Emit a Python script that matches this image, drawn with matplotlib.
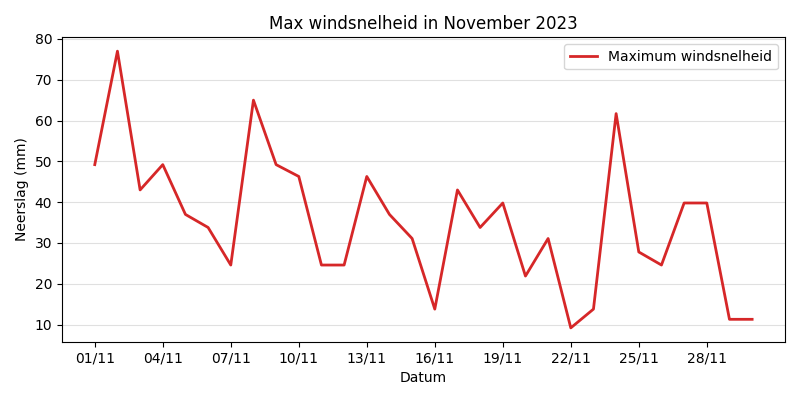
import matplotlib
matplotlib.use("Agg")
import matplotlib.pyplot as plt
import matplotlib.dates as mdates
import pandas as pd

dates = pd.date_range("2023-11-01", "2023-11-30", freq="D")
max_wind = [49.2, 77.0, 43.0, 49.2, 37.0, 33.8, 24.6, 65.0, 49.2, 46.3,
            24.6, 24.6, 46.3, 37.0, 31.1, 13.8, 43.0, 33.8, 39.8, 21.9,
            31.1, 9.2, 13.8, 61.7, 27.8, 24.6, 39.8, 39.8, 11.3, 11.3]

fig, ax = plt.subplots(figsize=(8, 4), dpi=100)
ax.plot(dates, max_wind, color="#d62728", linewidth=2, label="Maximum windsnelheid")
ax.set_title("Max windsnelheid in November 2023")
ax.set_xlabel("Datum")
ax.set_ylabel("Neerslag (mm)")
ax.set_xticks(dates[::3])
ax.xaxis.set_major_formatter(mdates.DateFormatter("%d/%m"))
ax.grid(axis="y", color="#e0e0e0", linewidth=0.8)
ax.set_axisbelow(True)
ax.legend(loc="upper right")
fig.tight_layout()
fig.savefig("out.png")
